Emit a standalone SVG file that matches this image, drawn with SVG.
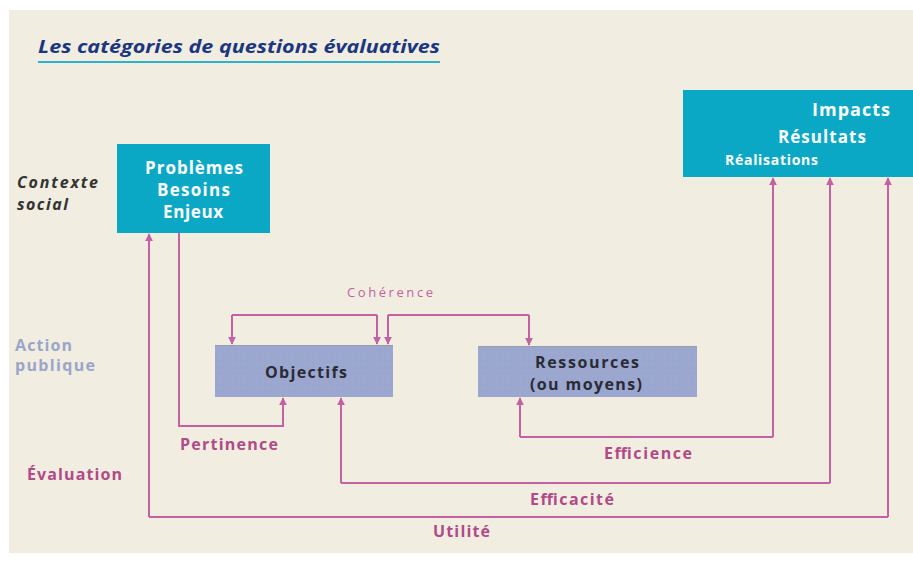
<svg xmlns="http://www.w3.org/2000/svg" width="913" height="563" viewBox="0 0 913 563">
<defs>
<style>
.bg{fill:#f1eee1}
.teal{fill:#0ba8c6}
.grey{fill:url(#dots)}
text{font-family:"Open Sans","Noto Sans",sans-serif;font-weight:700}
.wt{fill:#ffffff}
.dk{fill:#2a2a35;font-size:16px}
.mg{fill:#b04a88;font-size:16px}
.co{fill:#c261a3;font-size:13px;font-weight:400}
.ln{fill:none;stroke:#c261a3;stroke-width:2}
</style>
<pattern id="dots" width="6" height="6" patternUnits="userSpaceOnUse">
<rect width="6" height="6" fill="#9ea6cf"/>
<circle cx="1.5" cy="1.5" r="0.7" fill="#6fb6d6"/>
<circle cx="4.5" cy="4.2" r="0.6" fill="#7fbcd8"/>
</pattern>
<marker id="ah" viewBox="0 0 10 10" refX="9" refY="5" markerWidth="8" markerHeight="8" markerUnits="userSpaceOnUse" orient="auto">
<path d="M0,0 L10,5 L0,10 z" fill="#c261a3"/>
</marker>
</defs>
<rect width="913" height="563" fill="#ffffff"/>
<rect class="bg" x="9" y="10" width="904" height="543"/>
<g id="title">
<text x="38" y="53" font-style="italic" font-size="17" fill="#1c3680" textLength="402" lengthAdjust="spacingAndGlyphs">Les catégories de questions évaluatives</text>
<line x1="38" y1="62" x2="440" y2="62" stroke="#2bb3cc" stroke-width="2"/>
</g>
<g id="labels">
<text x="17" y="188" font-style="italic" font-size="16" fill="#333333" textLength="81">Contexte</text>
<text x="17" y="210" font-style="italic" font-size="16" fill="#333333" textLength="51">social</text>
<text x="15" y="351" font-size="16" fill="#9ba5c9" textLength="57">Action</text>
<text x="15" y="371" font-size="16" fill="#9ba5c9" textLength="80">publique</text>
<text class="mg" x="27" y="480" textLength="95">Évaluation</text>
</g>
<g id="connectors">
<path class="ln" d="M232,315 H377 M232,315 V344" marker-end="url(#ah)"/>
<path class="ln" d="M377,315 V344" marker-end="url(#ah)"/>
<path class="ln" d="M388,315 H529 M388,315 V344" marker-end="url(#ah)"/>
<path class="ln" d="M529,315 V345" marker-end="url(#ah)"/>
<path class="ln" d="M179,233 V426 H283 V398" marker-end="url(#ah)"/>
<path class="ln" d="M520,437 H773 M520,437 V398" marker-end="url(#ah)"/>
<path class="ln" d="M773,437 V178" marker-end="url(#ah)"/>
<path class="ln" d="M341,483 H830 M341,483 V398" marker-end="url(#ah)"/>
<path class="ln" d="M830,483 V178" marker-end="url(#ah)"/>
<path class="ln" d="M149,517 H888 M149,517 V234" marker-end="url(#ah)"/>
<path class="ln" d="M888,517 V178" marker-end="url(#ah)"/>
<text class="co" x="347" y="297" textLength="86">Cohérence</text>
<text class="mg" x="180" y="450" textLength="98">Pertinence</text>
<text class="mg" x="604" y="459" textLength="88">Efficience</text>
<text class="mg" x="530" y="505" textLength="84">Efficacité</text>
<text class="mg" x="433" y="537" textLength="57">Utilité</text>
</g>
<g id="problemes">
<rect class="teal" x="117" y="144" width="153" height="89"/>
<text class="wt" x="145" y="174" font-size="17" textLength="98">Problèmes</text>
<text class="wt" x="157" y="196" font-size="17" textLength="73">Besoins</text>
<text class="wt" x="163" y="218" font-size="17" textLength="60">Enjeux</text>
</g>
<g id="impacts">
<rect class="teal" x="683" y="90" width="230" height="87"/>
<text class="wt" x="812" y="116" font-size="18" textLength="78">Impacts</text>
<text class="wt" x="778" y="143" font-size="17" textLength="88">Résultats</text>
<text class="wt" x="725" y="165" font-size="14" textLength="93">Réalisations</text>
</g>
<g id="objectifs">
<rect class="grey" x="215" y="345" width="178" height="52"/>
<line x1="215" y1="345.5" x2="393" y2="345.5" stroke="#9a9aa8" stroke-width="1"/>
<text class="dk" x="265" y="378" textLength="82">Objectifs</text>
</g>
<g id="ressources">
<rect class="grey" x="478" y="346" width="219" height="51"/>
<line x1="478" y1="346.5" x2="697" y2="346.5" stroke="#9a9aa8" stroke-width="1"/>
<text class="dk" x="535" y="368" textLength="104">Ressources</text>
<text class="dk" x="530" y="390" textLength="112">(ou moyens)</text>
</g>
</svg>
